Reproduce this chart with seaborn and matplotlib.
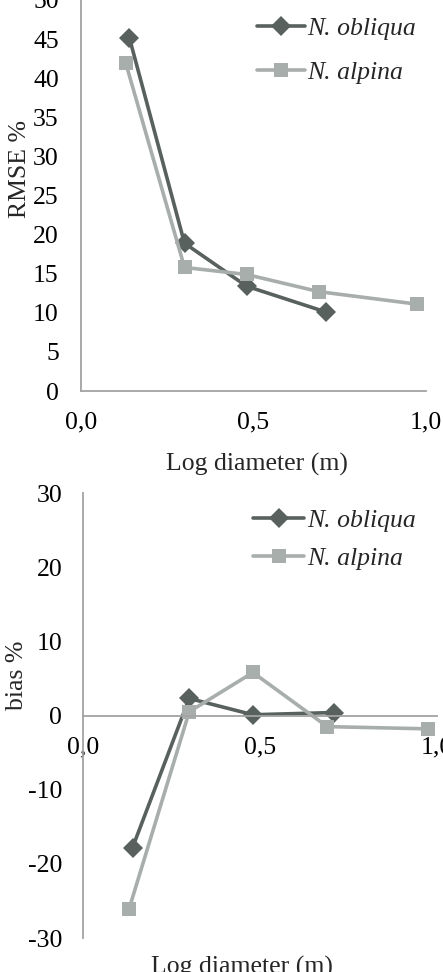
import matplotlib
matplotlib.use("Agg")
import matplotlib.pyplot as plt
import seaborn as sns
import pandas as pd

# ---- data ----
species = ["N. obliqua", "N. alpina"]
obliqua_x = [0.14, 0.30, 0.48, 0.71]
obliqua_rmse = [45.2, 18.9, 13.4, 10.1]
obliqua_bias = [-17.8, 2.3, 0.1, 0.4]
alpina_x = [0.13, 0.30, 0.48, 0.69, 0.975]
alpina_rmse = [41.9, 15.8, 14.9, 12.7, 11.1]
alpina_bias = [-26.1, 0.5, 5.8, -1.5, -1.8]
xticks = [0.0, 0.5, 1.0]
xticklabels = ["0,0", "0,5", "1,0"]
rmse_ticks = [0, 5, 10, 15, 20, 25, 30, 35, 40, 45, 50]
bias_ticks = [-30, -20, -10, 0, 10, 20, 30]

df = pd.DataFrame({
    "x": obliqua_x + alpina_x,
    "rmse": obliqua_rmse + alpina_rmse,
    "bias": obliqua_bias + alpina_bias,
    "species": [species[0]] * len(obliqua_x) + [species[1]] * len(alpina_x),
})

sns.set_style("white")
plt.rcParams["font.family"] = ["Liberation Serif", "DejaVu Serif"]

palette = {species[0]: "#58615d", species[1]: "#a8aeab"}
markers = {species[0]: "D", species[1]: "s"}
spine_c = "#a3a3a3"
fs = 18.5

fig = plt.figure(figsize=(4.43, 9.72), dpi=100)
ax1 = fig.add_axes([81 / 443, 1 - 391 / 972, (426 - 81) / 443, 391 / 972])
ax2 = fig.add_axes([83 / 443, 1 - 938 / 972, (437 - 83) / 443, (938 - 493) / 972])

for ax, col in [(ax1, "rmse"), (ax2, "bias")]:
    sns.lineplot(data=df, x="x", y=col, hue="species", style="species",
                 palette=palette, markers=markers, dashes=False,
                 linewidth=2.6, markersize=10.5, markeredgewidth=0,
                 sort=False, ax=ax, clip_on=False)
    for s in ["top", "right"]:
        ax.spines[s].set_visible(False)
    ax.spines["left"].set_color(spine_c)
    ax.spines["bottom"].set_color(spine_c)
    ax.spines["left"].set_linewidth(1.3)
    ax.spines["bottom"].set_linewidth(1.3)
    ax.set_xlim(0, 1.0)
    ax.set_xticks(xticks)
    ax.set_xticklabels(xticklabels)
    ax.tick_params(length=0, labelsize=fs, colors="black")
    ax.grid(False)

# top chart
ax1.set_ylim(0, 50)
ax1.set_yticks(rmse_ticks)
ax1.tick_params(axis="y", pad=16)
ax1.tick_params(axis="x", pad=15)
ax1.set_ylabel("RMSE %", fontsize=fs)
ax1.yaxis.set_label_coords(-0.145, 0.568)
ax1.set_xlabel("Log diameter (m)", fontsize=fs)
ax1.xaxis.set_label_coords(0.51, -0.158)
ax1.legend(loc="upper left", bbox_to_anchor=(0.51, 0.956), frameon=False,
           borderaxespad=0, borderpad=0,
           handlelength=1.87, handletextpad=0.1, labelspacing=0.8,
           prop={"style": "italic", "size": fs})

# bottom chart
ax2.set_ylim(-30, 30)
ax2.set_yticks(bias_ticks)
ax2.set_yticklabels([str(t) for t in bias_ticks])
ax2.spines["bottom"].set_position(("data", 0))
ax2.tick_params(axis="y", pad=15)
ax2.tick_params(axis="x", pad=15)
ax2.set_ylabel("bias %", fontsize=fs)
ax2.yaxis.set_label_coords(-0.155, 0.59)
ax2.set_xlabel("Log diameter (m)", fontsize=fs)
ax2.xaxis.set_label_coords(0.45, -0.04)
ax2.legend(loc="upper left", bbox_to_anchor=(0.48, 0.965), frameon=False,
           borderaxespad=0, borderpad=0,
           handlelength=2.0, handletextpad=0.1, labelspacing=0.6,
           prop={"style": "italic", "size": fs})

fig.savefig("out.png", dpi=100)
